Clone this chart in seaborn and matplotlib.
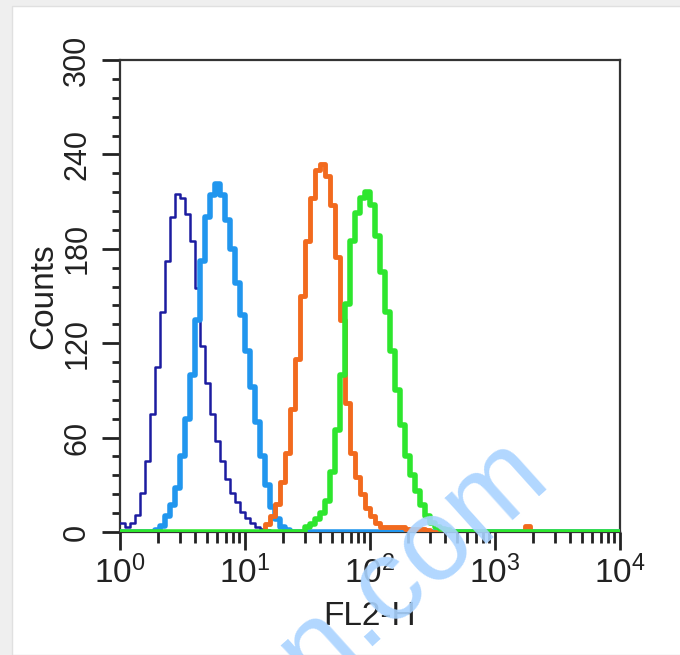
import numpy as np
import matplotlib
matplotlib.use("Agg")
import matplotlib.pyplot as plt
from matplotlib.patches import Rectangle
from matplotlib.ticker import MultipleLocator
import seaborn as sns

# counts per channel bin, 100 bins of 0.04 decade from 10^0 to 10^4
navy = [6, 3, 6, 11, 25, 45, 75, 105, 140, 172,
        200, 215, 212, 202, 185, 155, 118, 95, 75, 58,
        45, 34, 25, 19, 13, 9, 6, 3, 2, 1,
        0, 0, 0, 0, 0, 0, 0, 0, 0, 0,
        0, 0, 0, 0, 0, 0, 0, 0, 0, 0,
        0, 0, 0, 0, 0, 0, 0, 0, 0, 0,
        0, 0, 0, 0, 0, 0, 0, 0, 0, 0,
        0, 0, 0, 0, 0, 0, 0, 0, 0, 0,
        0, 0, 0, 0, 0, 0, 0, 0, 0, 0,
        0, 0, 0, 0, 0, 0, 0, 0, 0, 0]
light_blue = [0, 0, 0, 0, 0, 0, 0, 1, 4, 10,
              17, 28, 48, 72, 100, 135, 172, 200, 214, 221,
              214, 198, 180, 158, 138, 115, 92, 70, 48, 30,
              16, 8, 3, 1, 0, 0, 0, 0, 0, 0,
              0, 0, 0, 0, 0, 0, 0, 0, 0, 0,
              0, 0, 0, 0, 0, 0, 0, 0, 0, 0,
              0, 0, 0, 0, 0, 0, 0, 0, 0, 0,
              0, 0, 0, 0, 0, 0, 0, 0, 0, 0,
              0, 0, 0, 0, 0, 0, 0, 0, 0, 0,
              0, 0, 0, 0, 0, 0, 0, 0, 0, 0]
orange = [0, 0, 0, 0, 0, 0, 0, 0, 0, 0,
          0, 0, 0, 0, 0, 0, 0, 0, 0, 0,
          0, 0, 0, 0, 0, 0, 0, 0, 0, 5,
          10, 18, 32, 50, 78, 110, 150, 185, 212, 230,
          234, 226, 208, 175, 135, 82, 50, 35, 24, 15,
          10, 6, 3, 3, 3, 3, 3, 2, 2, 2,
          2, 1, 0, 0, 0, 0, 0, 0, 0, 0,
          0, 0, 0, 0, 0, 0, 0, 0, 0, 0,
          0, 4, 0, 0, 0, 0, 0, 0, 0, 0,
          0, 0, 0, 0, 0, 0, 0, 0, 0, 0]
green = [0, 0, 0, 0, 0, 0, 0, 0, 0, 0,
         0, 0, 0, 0, 0, 0, 0, 0, 0, 0,
         0, 0, 0, 0, 0, 0, 0, 0, 0, 0,
         0, 0, 0, 0, 0, 0, 0, 3, 5, 8,
         12, 20, 38, 65, 100, 145, 185, 203, 212, 216,
         208, 188, 165, 140, 115, 90, 68, 48, 36, 26,
         17, 10, 6, 3, 2, 1, 0, 0, 0, 0,
         0, 0, 0, 0, 0, 0, 0, 0, 0, 0,
         0, 0, 0, 0, 0, 0, 0, 0, 0, 0,
         0, 0, 0, 0, 0, 0, 0, 0, 0, 0]

series = [("navy", navy, "#1c1ca0", 1.8),
          ("light_blue", light_blue, "#2196ee", 4.0),
          ("orange", orange, "#f26a1e", 3.5),
          ("green", green, "#2ee62e", 4.0)]
y_ticks = [0, 60, 120, 180, 240, 300]

n_bins = 100
centers = 10 ** (np.arange(n_bins) * 0.04 + 0.02)

sns.set_style("white")
plt.rcParams['font.family'] = ['Liberation Sans', 'DejaVu Sans']
plt.rcParams['mathtext.fontset'] = 'custom'
plt.rcParams['mathtext.rm'] = 'Liberation Sans'
plt.rcParams['mathtext.it'] = 'Liberation Sans'

fig = plt.figure(figsize=(6.8, 6.55), dpi=100)
fig.patch.set_facecolor('#efefef')
fig.patches.append(Rectangle((12 / 680, 0), 1, 649 / 655, transform=fig.transFigure,
                             facecolor='white', edgecolor='#e0e0e0', lw=1, zorder=-10))
ax = fig.add_axes([120 / 680, 1 - 532 / 655, 500 / 680, 472 / 655])
ax.set_facecolor('white')

for name, counts, color, lw in series:
    sns.histplot(x=centers, weights=counts, bins=n_bins, binrange=(0, 4),
                 log_scale=True, element='step', fill=False, color=color,
                 linewidth=lw, ax=ax, zorder=3)

ax.set_xlim(1, 1e4)
ax.set_ylim(0, 300)
ax.set_yticks(y_ticks)
ax.yaxis.set_minor_locator(MultipleLocator(12))

for s in ax.spines.values():
    s.set_color('#333333')
    s.set_linewidth(1.6)

ax.tick_params(axis='both', which='major', direction='out', length=13, width=2,
               color='#222222', labelcolor='#222222')
ax.tick_params(axis='both', which='minor', direction='out', length=7, width=2,
               color='#222222')
ax.tick_params(axis='x', which='major', labelsize=24, pad=4)
ax.tick_params(axis='y', which='major', labelsize=22, pad=7)
ax.tick_params(axis='x', which='minor', length=8)
ax.tick_params(axis='y', which='minor', length=6)
ax.tick_params(axis='both', which='both', bottom=True, left=True)
plt.setp(ax.get_yticklabels(), rotation=90, va='center')

ax.set_xlabel("FL2-H", fontsize=24, color='#222222', labelpad=8)
ax.set_ylabel("Counts", fontsize=24, color='#222222', labelpad=2)

# watermark
fig.text(412 / 680, 1 - 606 / 655, "cn.com", fontsize=84, color='#a9d3ff',
         rotation=42, ha='center', va='baseline', rotation_mode='anchor',
         alpha=0.9, zorder=10)

fig.savefig("out.png", dpi=100)
